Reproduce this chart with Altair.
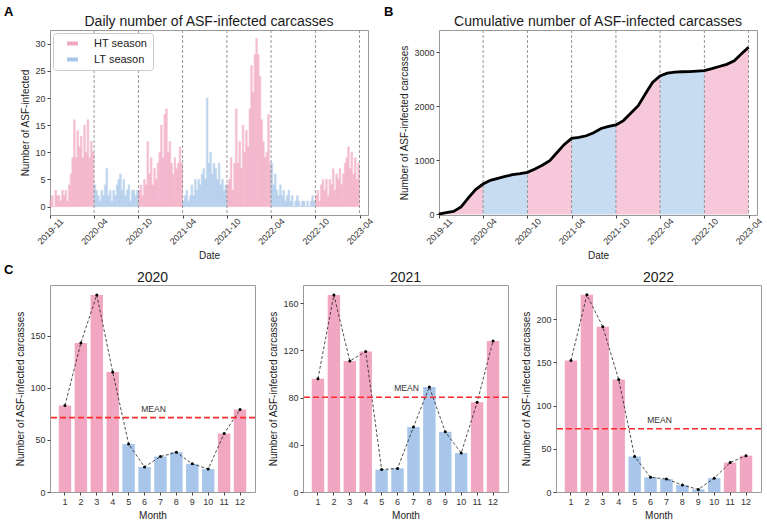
import altair as alt
import pandas as pd
import numpy as np

FONT = "Liberation Sans"

# ---------------- data ----------------
season_names = ["HT season", "LT season"]
season_starts = ["2019-10-01", "2020-04-01", "2020-10-01", "2021-04-01",
                 "2021-10-01", "2022-04-01", "2022-10-01"]
season_end = "2023-04-01"
season_of_period = ["HT season", "LT season", "HT season", "LT season",
                    "HT season", "LT season", "HT season"]

# daily counts (one reading per week of each season)
daily_ht_2019 = [1, 2, 0, 3, 2, 2, 1, 3, 2, 3, 1, 4, 6, 9, 16, 9, 14, 11, 13, 9, 15, 10, 16, 9, 12, 10]
daily_lt_2020 = [4, 3, 2, 1, 3, 2, 4, 7, 2, 3, 1, 3, 2, 4, 5, 6, 3, 5, 2, 3, 4, 1, 3, 3, 2, 3]
daily_ht_2020 = [3, 4, 2, 5, 4, 12, 6, 9, 4, 7, 5, 8, 10, 15, 9, 17, 18, 10, 12, 8, 6, 9, 7, 8, 11, 8]
daily_lt_2021 = [1, 2, 3, 1, 2, 4, 2, 5, 3, 5, 4, 6, 7, 5, 20, 8, 10, 6, 8, 7, 5, 8, 4, 5, 3, 4]
daily_ht_2021 = [4, 5, 9, 3, 8, 18, 8, 12, 7, 15, 10, 14, 11, 18, 26, 21, 28, 31, 28, 24, 16, 12, 9, 10, 17, 8]
daily_lt_2022 = [8, 4, 6, 3, 2, 4, 2, 3, 1, 2, 3, 1, 2, 0, 1, 2, 1, 0, 1, 1, 0, 1, 0, 1, 2, 1]
daily_ht_2022 = [2, 3, 1, 4, 5, 3, 5, 2, 5, 4, 7, 3, 6, 5, 7, 4, 6, 8, 9, 11, 7, 10, 6, 9, 5, 8]
daily_by_period = [daily_ht_2019, daily_lt_2020, daily_ht_2020, daily_lt_2021,
                   daily_ht_2021, daily_lt_2022, daily_ht_2022]

# cumulative number, read at the first day of each month 2019-10 .. 2023-04
cumulative_total = [5, 32, 55, 140, 310, 460, 562, 632, 668, 703, 735, 755,
                    778, 840, 910, 995, 1150, 1290, 1407, 1426, 1455, 1510, 1590, 1630,
                    1654, 1735, 1870, 2010, 2240, 2440, 2562, 2611, 2630, 2638, 2642, 2650,
                    2660, 2695, 2735, 2775, 2840, 2960, 3093]

months = list(range(1, 13))
monthly_2020 = [83, 143, 189, 115, 46, 24, 34, 38, 27, 22, 56, 79]
monthly_2021 = [96, 167, 111, 119, 19, 20, 55, 89, 51, 33, 76, 128]
monthly_2022 = [152, 228, 191, 130, 41, 17, 15, 8, 3, 16, 34, 42]
lt_months = [5, 6, 7, 8, 9, 10]

boundary_dates = ["2020-04-01", "2020-10-01", "2021-04-01", "2021-10-01",
                  "2022-04-01", "2022-10-01", "2023-04-01"]

title_a = "Daily number of ASF-infected carcasses"
title_b = "Cumulative number of ASF-infected carcasses"

# ---------------- tables ----------------
rows = []
for start, season, vals in zip(season_starts, season_of_period, daily_by_period):
    s = pd.Timestamp(start)
    for i, v in enumerate(vals):
        rows.append({"start": s + pd.Timedelta(days=7 * i),
                     "end": s + pd.Timedelta(days=7 * (i + 1)),
                     "count": v, "season": season})
daily_df = pd.DataFrame(rows)

cum_dates = pd.date_range(season_starts[0], season_end, freq="MS")
cum_df = pd.DataFrame({"date": cum_dates, "total": cumulative_total})

edges = [pd.Timestamp(d) for d in season_starts] + [pd.Timestamp(season_end)]
seg_rows = []
for k, season in enumerate(season_of_period):
    sub = cum_df[(cum_df.date >= edges[k]) & (cum_df.date <= edges[k + 1])]
    for _, r in sub.iterrows():
        seg_rows.append({"date": r.date, "total": r.total, "season": season, "segment": k})
seg_df = pd.DataFrame(seg_rows)

bound_df = pd.DataFrame({"date": pd.to_datetime(boundary_dates)})

# ---------------- shared encodings ----------------
PINK = "#f1a6c1"
BLUE = "#a7c6e9"
C_PINK = "#e3a7c0"
C_BLUE = "#a0bddc"

color_scale = alt.Scale(domain=season_names, range=[PINK, BLUE])

legend_cfg = alt.Legend(title=None, orient="top-left", offset=3, fillColor="white",
                        strokeColor="#cccccc", cornerRadius=3, padding=5,
                        labelFont=FONT, labelFontSize=11, labelColor="#222",
                        symbolType="M-2.75,-1L2.75,-1L2.75,1L-2.75,1Z", symbolSize=16,
                        symbolOffset=9, labelOffset=16, symbolStrokeWidth=0,
                        symbolOpacity=1, rowPadding=4)

x_scale = alt.Scale(domain=[alt.DateTime(year=2019, month=10, date=2),
                            alt.DateTime(year=2023, month=5, date=6)])
tick_vals = [alt.DateTime(year=2019, month=10, date=2)] + [
    alt.DateTime(year=int(d[:4]), month=int(d[5:7]), date=1) for d in boundary_dates]
x_axis = alt.Axis(values=tick_vals, title="Date", labelAngle=-45, labelAlign="center",
                  labelBaseline="middle", labelPadding=13,
                  labelExpr="timeFormat(datum.value, '%Y-%m') == '2019-10' ? '2019-11' : timeFormat(datum.value, '%Y-%m')")


def letter_title(letter, dx, dy):
    return alt.TitleParams(letter, anchor="start", frame="group", fontWeight="bold",
                           fontSize=13, color="black", dx=dx, dy=dy, offset=0)


def top_text(label, width, y):
    return alt.Chart(pd.DataFrame({"t": [label]})).mark_text(
        font=FONT, fontSize=14, color="#1a1a1a", align="center", baseline="alphabetic"
    ).encode(x=alt.value(width / 2), y=alt.value(y), text="t:N")


rules = alt.Chart(bound_df).mark_rule(color="#8c8c8c", strokeDash=[3, 2], strokeWidth=0.9).encode(
    x="date:T")

# ---------------- panel A ----------------
bars_a = alt.Chart(daily_df).mark_bar(opacity=0.72, strokeWidth=0.6).encode(
    x=alt.X("start:T", scale=x_scale, axis=x_axis),
    x2="end:T",
    y=alt.Y("count:Q", scale=alt.Scale(domain=[-1.55, 32.55], nice=False, zero=False),
            axis=alt.Axis(values=list(range(0, 31, 5)), title="Number of ASF-infected")),
    y2=alt.datum(0),
    color=alt.Color("season:N", scale=color_scale, legend=legend_cfg),
    stroke=alt.Stroke("season:N", scale=color_scale, legend=None),
)
chart_a = alt.layer(bars_a, rules, top_text(title_a, 318, -4)).properties(
    width=318, height=185, title=letter_title("A", -46, 4))

# ---------------- panel B ----------------
area_b = alt.Chart(seg_df).mark_area(opacity=0.62).encode(
    x=alt.X("date:T", scale=x_scale, axis=x_axis),
    y=alt.Y("total:Q", stack=None, scale=alt.Scale(domain=[-10, 3410], nice=False, zero=False),
            axis=alt.Axis(values=list(range(0, 3001, 500)), format="d",
                          title="Number of ASF-infected carcasses")),
    y2=alt.datum(0),
    color=alt.Color("season:N", scale=color_scale, legend=legend_cfg),
    detail="segment:N",
)
line_b = alt.Chart(cum_df).mark_line(color="black", strokeWidth=2.8).encode(
    x="date:T", y="total:Q")
chart_b = alt.layer(area_b, rules, line_b, top_text(title_b, 318, -4)).properties(
    width=318, height=185, title=letter_title("B", -55, 4))


# ---------------- panel C ----------------
def month_panel(year, values, y_ticks, y_max, letter=None):
    df = pd.DataFrame({"month": months, "count": values})
    df["season"] = np.where(df["month"].isin(lt_months), "LT season", "HT season")
    x = alt.X("month:O", scale=alt.Scale(paddingInner=0.22, paddingOuter=0.55),
              axis=alt.Axis(labelAngle=0, title="Month"))
    bars = alt.Chart(df).mark_bar().encode(
        x=x,
        y=alt.Y("count:Q", scale=alt.Scale(domain=[0, y_max], nice=False),
                axis=alt.Axis(values=y_ticks, title="Number of ASF-infected carcasses")),
        color=alt.Color("season:N", scale=alt.Scale(domain=season_names, range=[C_PINK, C_BLUE]),
                        legend=None),
    )
    line = alt.Chart(df).mark_line(color="#222", strokeDash=[3, 2], strokeWidth=0.8).encode(
        x=x, y="count:Q")
    pts = alt.Chart(df).mark_point(color="black", filled=True, size=9, opacity=1).encode(
        x=x, y="count:Q")
    mean_val = float(np.mean(values))
    mdf = pd.DataFrame({"mean": [mean_val], "t": ["MEAN"], "month": [6]})
    rule = alt.Chart(mdf).mark_rule(color="#ff2a2a", strokeDash=[6, 3], strokeWidth=1.6).encode(
        y="mean:Q")
    text = alt.Chart(mdf).mark_text(font=FONT, fontSize=8.5, color="#333", dx=9, dy=-4,
                                    baseline="bottom").encode(x="month:O", y="mean:Q", text="t:N")
    layers = [bars, line, pts, rule, text, top_text(str(year), 205, -3)]
    props = dict(width=205, height=207)
    if letter:
        props["title"] = letter_title(letter, -46, 6)
    return alt.layer(*layers).properties(**props)


c1 = month_panel(2020, monthly_2020, list(range(0, 176, 25)), 198.5, "C")
c2 = month_panel(2021, monthly_2021, list(range(0, 161, 20)), 175.4)
c3 = month_panel(2022, monthly_2022, list(range(0, 201, 50)), 239.4)

top = alt.hconcat(chart_a, chart_b, spacing=71, bounds="flush")
bottom = alt.hconcat(c1, c2, c3, spacing=48, bounds="flush")

chart = alt.vconcat(top, bottom, spacing=2).properties(
    padding={"left": 3, "top": 5, "right": 2, "bottom": 2}
).configure_view(
    stroke="#9a9a9a", strokeWidth=1
).configure_axis(
    labelFont=FONT, titleFont=FONT, labelFontSize=9, titleFontSize=10,
    labelColor="#333", titleColor="#222", titleFontWeight="normal",
    tickColor="#444", tickSize=3, domain=False, grid=False, labelPadding=2, titlePadding=4
).configure_title(
    font=FONT, fontSize=14, fontWeight="normal", color="#1a1a1a"
)

chart.save("out.html", embed_options={"renderer": "svg", "actions": False})
